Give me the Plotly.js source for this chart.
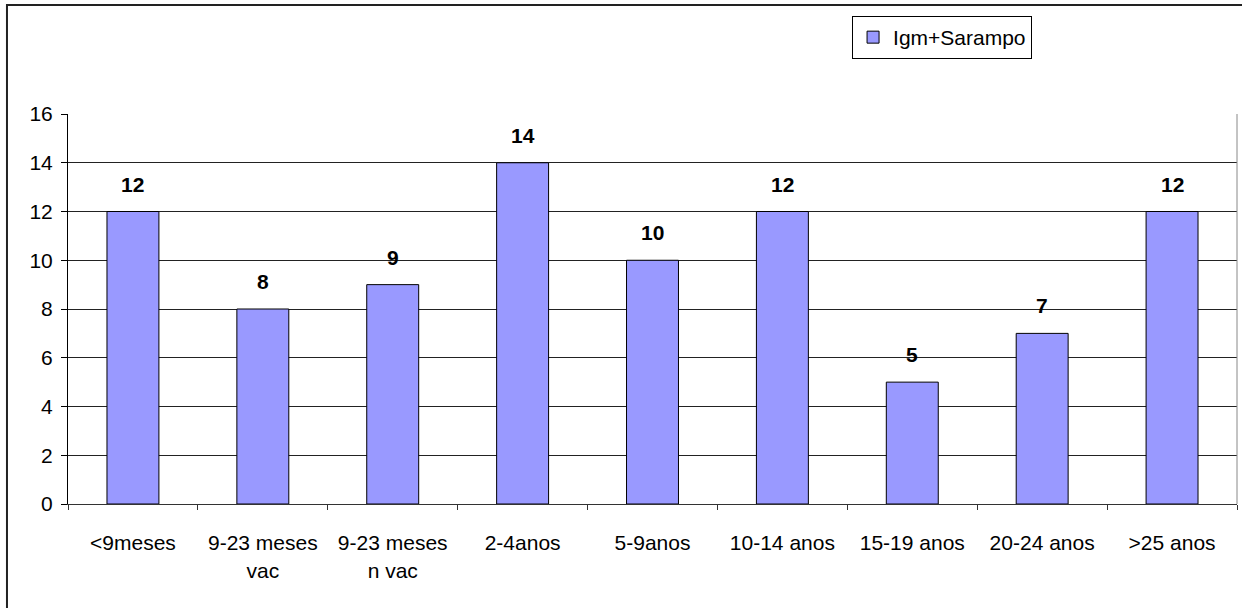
<!DOCTYPE html>
<html>
<head>
<meta charset="utf-8">
<script src="https://cdn.plot.ly/plotly-3.0.1.min.js"></script>
<style>html,body{margin:0;padding:0;background:#fff;}#chart{width:1242px;height:608px;}</style>
</head>
<body>
<div id="chart"></div>
<script>
var categories = ["<9meses", "9-23 meses<br>vac", "9-23 meses<br>n vac", "2-4anos", "5-9anos", "10-14 anos", "15-19 anos", "20-24 anos", ">25 anos"];
var values = [12, 8, 9, 14, 10, 12, 5, 7, 12];
var seriesName = "Igm+Sarampo";
var yTicks = [0, 2, 4, 6, 8, 10, 12, 14, 16];

var FONT = '"Liberation Sans", Arial, sans-serif';

var trace = {
  type: 'bar',
  x: categories,
  y: values,
  name: seriesName,
  marker: {color: '#9999FF', line: {color: '#000000', width: 1}},
  width: 0.4,
  showlegend: true
};

var annotations = categories.map(function (c, i) {
  return {
    x: c, y: values[i], xref: 'x', yref: 'y',
    text: '<b>' + values[i] + '</b>',
    showarrow: false, yanchor: 'bottom', yshift: 14,
    font: {family: FONT, size: 21, color: '#000'}
  };
});

var layout = {
  width: 1242, height: 608,
  margin: {l: 68, r: 5, t: 114, b: 104, pad: 0},
  paper_bgcolor: '#ffffff',
  plot_bgcolor: '#ffffff',
  font: {family: FONT, size: 21, color: '#000'},
  bargap: 0.6,
  xaxis: {
    type: 'category',
    showline: true, linecolor: '#333333', linewidth: 1,
    ticks: 'outside', ticklen: 5, tickcolor: '#333333',
    tickson: 'boundaries',
    showgrid: false,
    ticklabelstandoff: 20,
    tickfont: {family: FONT, size: 21, color: '#000'}
  },
  yaxis: {
    range: [0, 16],
    tickvals: yTicks,
    showline: true, linecolor: '#000', linewidth: 1,
    ticks: 'outside', ticklen: 6, tickcolor: '#000',
    showgrid: true, gridcolor: '#222222', gridwidth: 1,
    zeroline: false,
    ticklabelstandoff: 4,
    tickfont: {family: FONT, size: 21, color: '#000'}
  },
  legend: {
    x: 0.6707, y: 1.2513, xanchor: 'left', yanchor: 'top',
    bgcolor: '#ffffff', bordercolor: '#000', borderwidth: 1,
    font: {family: FONT, size: 21, color: '#000'},
    itemwidth: 30
  },
  annotations: annotations,
  shapes: [
    {type: 'line', xref: 'paper', yref: 'paper', x0: 1, x1: 1, y0: 0, y1: 1,
     line: {color: '#888888', width: 1}},
    {type: 'rect', xref: 'paper', yref: 'paper', x0: -0.0522, x1: 1.2, y0: -0.6, y1: 1.2795,
     line: {color: '#222222', width: 2}, fillcolor: 'rgba(0,0,0,0)', layer: 'above'}
  ]
};

Plotly.newPlot('chart', [trace], layout, {displayModeBar: false, staticPlot: true});
</script>
</body>
</html>
